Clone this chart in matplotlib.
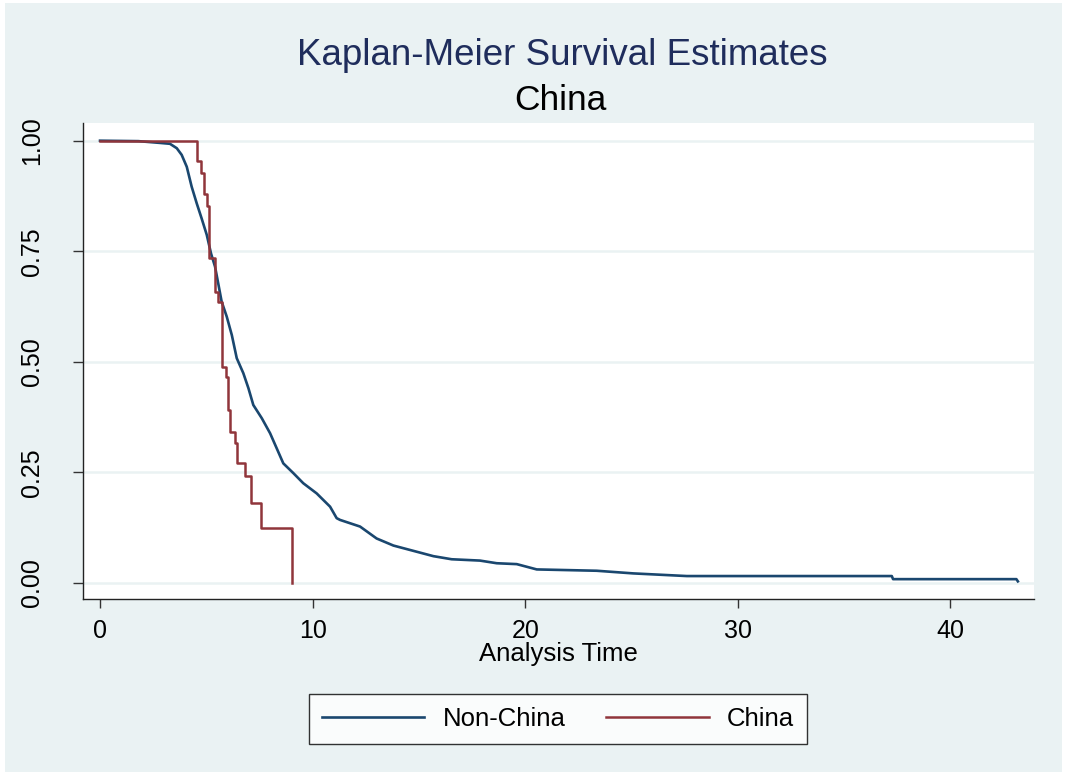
import matplotlib
matplotlib.use('Agg')
import matplotlib.pyplot as plt
from matplotlib.patches import Rectangle

plt.rcParams['font.family'] = ['Liberation Sans', 'DejaVu Sans']

# Kaplan-Meier estimates
nonchina_t = [0, 1.8, 2.82, 3.29, 3.61, 3.84, 4.08, 4.31, 4.55, 4.78, 5.02, 5.22, 5.41,
              5.56, 5.72, 5.96, 6.20, 6.43, 6.74, 6.98, 7.21, 7.61, 8.00, 8.31, 8.62,
              9.09, 9.56, 10.19, 10.82, 11.13, 11.29, 12.23, 13.01, 13.80, 14.74, 15.68,
              16.54, 17.87, 18.66, 19.60, 20.54, 23.36, 25.08, 27.60, 37.24, 37.30,
              43.10, 43.17]
nonchina_s = [1.0, 0.999, 0.995, 0.993, 0.983, 0.968, 0.941, 0.896, 0.858, 0.824, 0.787,
              0.745, 0.715, 0.677, 0.636, 0.602, 0.560, 0.508, 0.474, 0.440, 0.402, 0.372,
              0.338, 0.304, 0.270, 0.248, 0.225, 0.202, 0.172, 0.146, 0.142, 0.127, 0.100,
              0.084, 0.072, 0.060, 0.053, 0.050, 0.044, 0.042, 0.030, 0.027, 0.021, 0.015,
              0.015, 0.008, 0.008, 0.003]

china_t = [0, 4.58, 4.74, 4.89, 5.05, 5.14, 5.41, 5.57, 5.72, 5.91, 6.01, 6.11, 6.35,
           6.46, 6.82, 7.09, 7.57, 9.05]
china_s = [1.0, 0.953, 0.928, 0.879, 0.852, 0.734, 0.658, 0.636, 0.489, 0.466, 0.391,
           0.342, 0.317, 0.270, 0.241, 0.181, 0.123, 0.0]

xticks = [0, 10, 20, 30, 40]
yticks = [0.0, 0.25, 0.5, 0.75, 1.0]
ytick_labels = ['0.00', '0.25', '0.50', '0.75', '1.00']

bg = '#EAF2F3'
blue = '#1a476f'
red = '#90353b'

fig = plt.figure(figsize=(10.67, 7.72), dpi=100)
fig.patch.set_facecolor('white')
fig.patches.append(Rectangle((5 / 1067, 0), 1057 / 1067, 769 / 772, transform=fig.transFigure,
                             facecolor=bg, edgecolor='none', zorder=-10))

ax = fig.add_axes([0.0781, 0.2237, 0.891, 0.6166])
ax.set_facecolor('white')

l1, = ax.plot(nonchina_t, nonchina_s, color=blue, lw=1.9, label='Non-China', zorder=3)
l2, = ax.plot(china_t, china_s, color=red, lw=1.8, drawstyle='steps-post', label='China', zorder=3)

ax.set_xlim(-0.785, 43.93)
ax.set_ylim(-0.0376, 1.0394)
ax.set_xticks(xticks)
ax.set_yticks(yticks)
ax.set_yticklabels(ytick_labels, rotation=90, va='center')
for y in yticks:
    ax.axhline(y, color=bg, lw=1.8, zorder=1)

for s in ['top', 'right']:
    ax.spines[s].set_visible(False)
for s in ['left', 'bottom']:
    ax.spines[s].set_linewidth(1.0)
    ax.spines[s].set_color('#222222')

ax.tick_params(axis='x', direction='out', length=6.5, width=1, color='#333333',
               labelsize=18, pad=8)
ax.tick_params(axis='y', direction='out', length=7.5, width=1, color='#333333',
               labelsize=18, pad=21)

ax.set_xlabel('Analysis Time', fontsize=18.5, labelpad=-1)

fig.text(562 / 1067, 1 - 65 / 772, 'Kaplan-Meier Survival Estimates', fontsize=26.5,
         color='#1f2d5c', ha='center', va='baseline')
fig.text(560 / 1067, 1 - 110 / 772, 'China', fontsize=25.5, color='black',
         ha='center', va='baseline')

leg = fig.legend(handles=[l1, l2], loc='center', bbox_to_anchor=(558 / 1067, 1 - 719 / 772),
                 ncol=2, fontsize=18.5, frameon=True, fancybox=False, edgecolor='black',
                 handlelength=4.0, handletextpad=0.7, columnspacing=1.6, borderpad=0.5)
leg.get_frame().set_linewidth(1.0)
leg.get_frame().set_facecolor('white')

fig.savefig('out.png', dpi=100, facecolor=fig.get_facecolor())
